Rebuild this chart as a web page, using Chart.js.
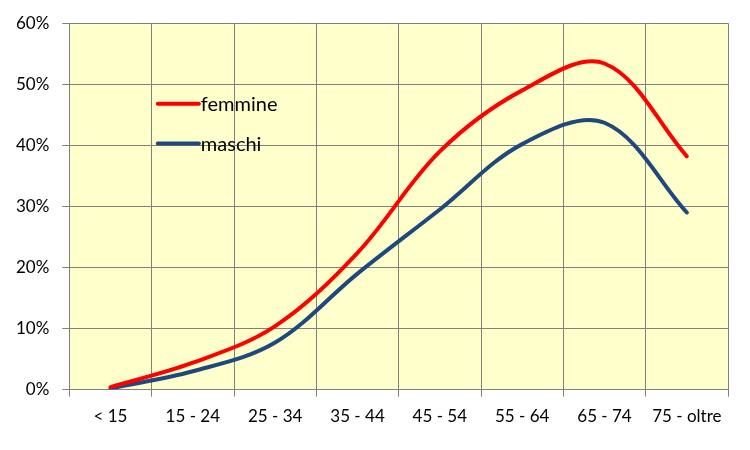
<!DOCTYPE html>
<html>
<head>
<meta charset="utf-8">
<script src="https://cdn.jsdelivr.net/npm/chart.js@4"></script>
<style>
  html, body { margin: 0; padding: 0; background: #fff; }
  #wrap { width: 750px; height: 450px; }
</style>
</head>
<body>
<div id="wrap"><canvas id="chart" width="750" height="450"></canvas></div>
<script>
// Fasce di età e quote (%)
const categories = ['< 15', '15 - 24', '25 - 34', '35 - 44', '45 - 54', '55 - 64', '65 - 74', '75 - oltre'];
const femmine = [0.4, 4.4, 10.4, 22.4, 39.0, 49.0, 53.4, 38.2];
const maschi = [0.2, 3.0, 7.7, 19.0, 29.5, 40.2, 43.7, 29.0];
const yTicks = [0, 10, 20, 30, 40, 50, 60];

const fontFamily = 'Lato, "Open Sans", sans-serif';

// Sfondo giallo dell'area del grafico
const plotBg = {
    id: 'plotBg',
    beforeDraw(chart) {
        const a = chart.chartArea;
        const c = chart.ctx;
        c.save();
        c.fillStyle = '#FFFFCC';
        c.fillRect(a.left, a.top, a.right - a.left, a.bottom - a.top);
        c.restore();
    }
};

// Legenda dentro l'area del grafico
const innerLegend = {
    id: 'innerLegend',
    afterDraw(chart) {
        const c = chart.ctx;
        const x0 = chart.scales.x.getPixelForValue(1) - 35;
        const rows = [
            { y: chart.scales.y.getPixelForValue(46.8), ds: chart.data.datasets[0] },
            { y: chart.scales.y.getPixelForValue(40.3), ds: chart.data.datasets[1] }
        ];
        c.save();
        c.font = '20px ' + fontFamily;
        c.textBaseline = 'middle';
        rows.forEach(r => {
            c.strokeStyle = r.ds.borderColor;
            c.lineWidth = 4;
            c.lineCap = 'round';
            c.beginPath();
            c.moveTo(x0, r.y);
            c.lineTo(x0 + 41, r.y);
            c.stroke();
            c.fillStyle = '#000';
            c.fillText(r.ds.label, x0 + 43, r.y + 1);
        });
        c.restore();
    }
};

const ctx = document.getElementById('chart').getContext('2d');
const chart = new Chart(ctx, {
    type: 'line',
    data: {
        labels: categories,
        datasets: [{
            label: 'femmine',
            data: femmine,
            borderColor: '#FF0000',
            borderWidth: 4,
            pointRadius: 0,
            tension: 0.35,
            borderCapStyle: 'round'
        }, {
            label: 'maschi',
            data: maschi,
            borderColor: '#1F497D',
            borderWidth: 4,
            pointRadius: 0,
            tension: 0.35,
            borderCapStyle: 'round'
        }]
    },
    options: {
        animation: false,
        responsive: false,
        layout: { padding: { top: 14, right: 22, bottom: 13, left: 3 } },
        plugins: { legend: { display: false }, tooltip: { enabled: false } },
        scales: {
            x: {
                offset: true,
                grid: { offset: true, color: '#808080', lineWidth: 1, tickLength: 7 },
                border: { color: '#808080' },
                ticks: { color: '#000', padding: 10, font: { family: fontFamily, size: 17 }, maxRotation: 0 }
            },
            y: {
                min: 0,
                max: 60,
                afterBuildTicks(scale) { scale.ticks = yTicks.map(v => ({ value: v })); },
                grid: { color: '#808080', lineWidth: 1, tickLength: 7 },
                border: { color: '#808080' },
                ticks: {
                    color: '#000',
                    padding: 13,
                    font: { family: fontFamily, size: 17 },
                    callback: v => v + '%'
                }
            }
        }
    },
    plugins: [plotBg, innerLegend]
});
</script>
</body>
</html>
